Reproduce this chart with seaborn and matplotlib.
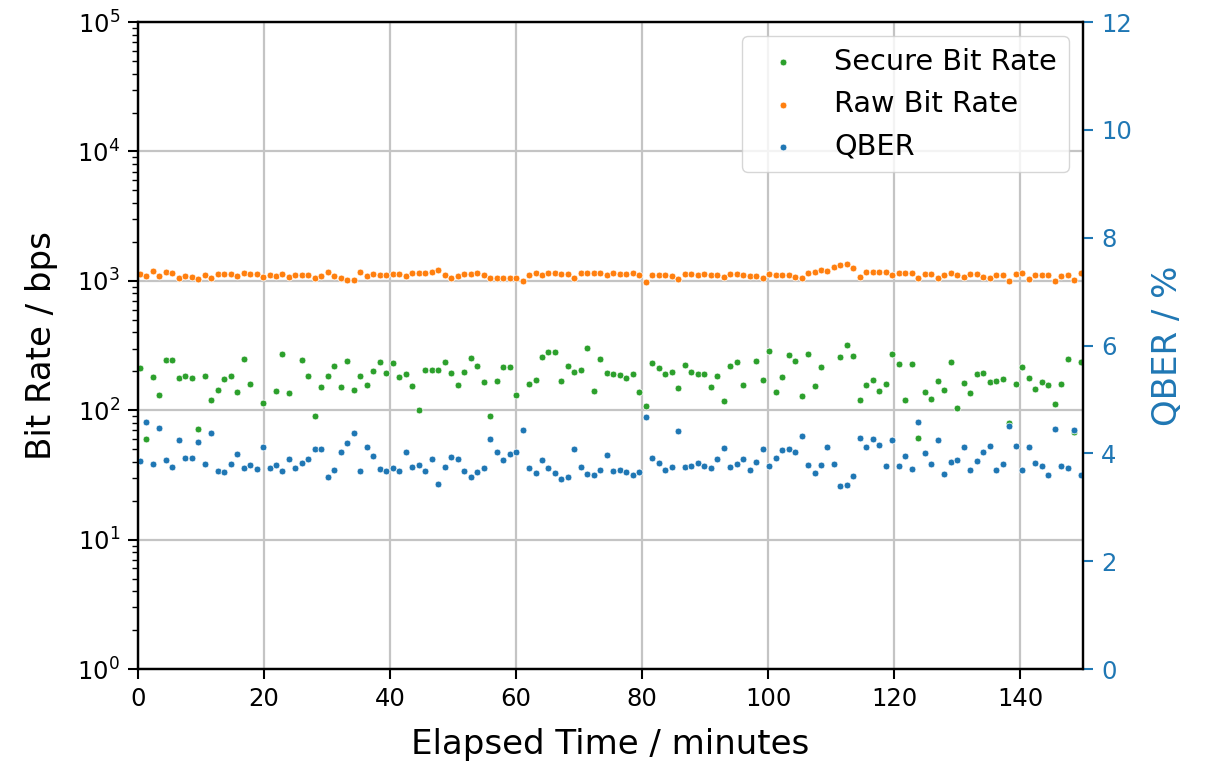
import numpy as np
import pandas as pd
import matplotlib
matplotlib.use("Agg")
import matplotlib.pyplot as plt
import seaborn as sns

nan = np.nan

# sample times (minutes), roughly one sample every ~1.03 min
minutes = np.linspace(0.27, 149.6, 146)

# Raw bit rate (bps)
raw_rate = [
    1139, 1087, 1195, 1087, 1167, 1146, 1061, 1093, 1080, 1042, 1113, 1061, 1139, 1126, 1126, 1100, 1153, 1126,
    1139, 1074, 1113, 1100, 1126, 1080, 1113, 1113, 1106, 1061, 1100, 1181, 1087, 1049, 1024, 1012, 1174, 1100,
    1126, 1119, 1119, 1139, 1139, 1093, 1146, 1146, 1153, 1167, 1209, 1106, 1061, 1087, 1126, 1139, 1153, 1106,
    1049, 1061, 1061, 1061, 1055, 1006, 1113, 1146, 1119, 1160, 1146, 1126, 1126, 1061, 1146, 1146, 1146, 1153, 1113,
    1160, 1139, 1133, 1146, 1113, 976, 1106, 1113, 1119, 1100, 1036, 1126, 1126, 1119, 1133, 1113, 1113, 1067,
    1133, 1126, 1113, 1093, 1100, 1061, 1133, 1106, 1106, 1113, 1080, 1061, 1146, 1181, 1209, 1188, 1291, 1330,
    1353, 1253, 1074, 1167, 1174, 1174, 1174, 1119, 1160, 1146, 1146, 1055, 1139, 1139, 1055, 1119, 1146, 1113,
    1080, 1139, 1133, 1074, 1055, 1119, 1119, 1000, 1126, 1153, 1042, 1106, 1106, 1106, 1000, 1087, 1113, 1024, 1153,
]

# Secure bit rate (bps), gaps where no point is visible
secure_rate = [
    214, 60, 181, 131, 245, 244, 178, 185, 178, 72, 185, 121, 143, 173, 183, 139, 249, 160,
    nan, 114, nan, 141, 273, 135, nan, 246, 184, 91, 152, 185, 220, 152, 239, 143, 184, 157,
    201, 235, 194, 231, 180, 192, 154, 101, 206, 206, 204, 234, 193, 156, 196, 255, 218, 166,
    91, 167, 216, 215, 132, nan, 161, 171, 260, 284, 283, 168, 218, 198, 204, 301, 142, 251, 194,
    192, 187, 179, 190, 139, 107, 231, 214, 189, 198, 148, 224, 197, 190, 190, 151, 184, 118,
    219, 235, 157, nan, 241, 170, 286, 139, 181, 269, 241, 130, 273, 155, 215, nan, nan, 260,
    318, 262, 120, 158, 172, 141, 159, 273, 228, 119, 227, 61, 138, 122, 169, 143, 235, 104,
    162, 137, 190, 194, 166, 168, 174, 80, 160, 216, 178, 145, 165, 156, 112, 160, 249, 68, 236,
]

# QBER (%)
qber = [
    3.85, 4.58, 3.80, 4.48, 3.88, 3.74, 4.24, 3.91, 3.91, 4.22, 3.80, 4.38, 3.67, 3.65, 3.81, 3.98, 3.72, 3.78,
    3.71, 4.11, 3.72, 3.78, 3.67, 3.89, 3.72, 3.83, 3.89, 4.09, 4.09, 3.56, 3.69, 4.02, 4.20, 4.38, 3.68, 4.11,
    3.96, 3.71, 3.67, 3.72, 3.68, 4.03, 3.75, 3.78, 3.67, 3.90, 3.44, 3.74, 3.93, 3.90, 3.68, 3.56, 3.66, 3.73,
    4.26, 4.03, 3.88, 3.98, 4.03, 4.43, 3.73, 3.64, 3.88, 3.73, 3.64, 3.53, 3.56, 4.09, 3.75, 3.61, 3.60, 3.69, 3.97,
    3.67, 3.69, 3.65, 3.59, 3.66, 4.68, 3.91, 3.83, 3.69, 3.74, 4.41, 3.75, 3.76, 3.83, 3.76, 3.72, 3.89, 4.10,
    3.74, 3.81, 3.89, 3.70, 3.84, 4.09, 3.76, 3.92, 4.06, 4.09, 4.03, 4.32, 3.78, 3.64, 3.79, 4.12, 3.80, 3.40,
    3.42, 3.58, 4.29, 4.11, 4.27, 4.15, 3.76, 4.25, 3.76, 3.96, 3.71, 4.58, 4.01, 3.81, 4.24, 3.62, 3.84, 3.88,
    4.11, 3.69, 3.85, 4.03, 4.13, 3.69, 3.81, 4.50, 4.13, 3.70, 4.12, 3.83, 3.76, 3.59, 4.45, 3.76, 3.72, 4.43, 3.60,
]

df = pd.DataFrame({'minutes': minutes, 'raw': raw_rate, 'secure': secure_rate, 'qber': qber})

plt.rcParams['font.family'] = ['DejaVu Sans']

fig = plt.figure(figsize=(12.12, 7.62), dpi=100)
ax1 = fig.add_axes([0.1139, 0.122, 0.7797, 0.849])
ax2 = ax1.twinx()

dot = dict(s=24, linewidth=0.5, edgecolor='white')
sns.scatterplot(data=df, x='minutes', y='secure', ax=ax1, color='tab:green', label='Secure Bit Rate', **dot)
sns.scatterplot(data=df, x='minutes', y='raw', ax=ax1, color='tab:orange', label='Raw Bit Rate', **dot)
sns.scatterplot(data=df, x='minutes', y='qber', ax=ax2, color='tab:blue', label='QBER', **dot)

ax1.set_yscale('log')
ax1.set_ylim(1, 1e5)
ax1.set_xlim(0, 150)
ax1.set_xticks(range(0, 141, 20))
ax2.set_ylim(0, 12)
ax2.set_yticks(range(0, 13, 2))

ax1.grid(True, which='major', color='#c4c4c4', linewidth=1.6)
ax1.set_axisbelow(True)

ax1.set_xlabel('Elapsed Time / minutes', fontsize=24.5, labelpad=12)
ax1.set_ylabel('Bit Rate / bps', fontsize=24.5, labelpad=14)
ax2.set_ylabel('QBER / %', fontsize=24.5, color='tab:blue', labelpad=14)

ax1.tick_params(axis='both', which='major', labelsize=17.5, length=7, width=1.5, pad=6)
ax1.tick_params(axis='y', which='minor', length=4, width=1)
ax2.tick_params(axis='y', which='major', labelsize=17.5, length=7, width=1.5, pad=6, colors='tab:blue')

for ax in (ax1, ax2):
    for sp in ax.spines.values():
        sp.set_linewidth(1.6)

# merge the legends from both axes into one box
h1, l1 = ax1.get_legend_handles_labels()
h2, l2 = ax2.get_legend_handles_labels()
ax1.get_legend().remove()
ax2.get_legend().remove()
ax2.legend(h1 + h2, l1 + l2, loc='upper right', fontsize=20.7)

fig.savefig('out.png', dpi=100)
